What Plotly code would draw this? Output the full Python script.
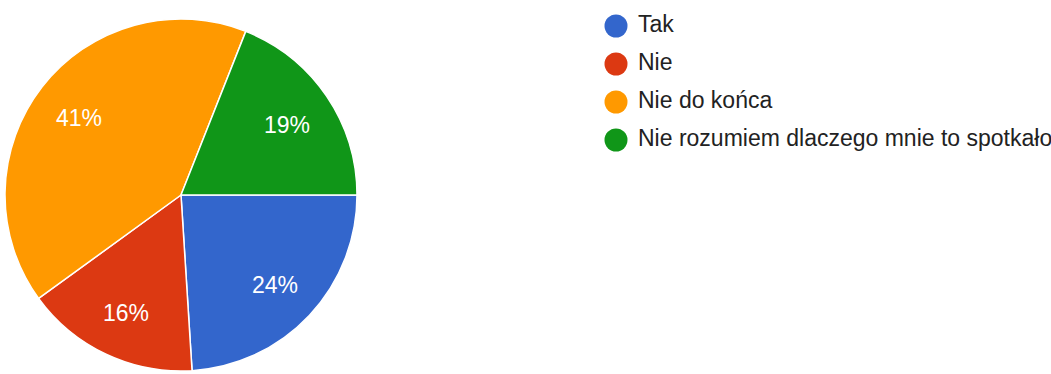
import math
import plotly.graph_objects as go

# Survey answers and their shares (percent)
labels = ["Tak", "Nie", "Nie do końca", "Nie rozumiem dlaczego mnie to spotkało"]
values = [24, 16, 41, 19]
colors = ["#3366cc", "#dc3912", "#ff9900", "#109618"]

W, H = 1051, 374
FONT = "Arial, Liberation Sans, sans-serif"

# pie geometry in pixels (start at 3 o'clock, clockwise)
cx, cy, r = 181, 195, 176
start_deg = 90
label_frac = 0.73

fig = go.Figure()

fig.add_trace(go.Pie(
    labels=labels,
    values=values,
    sort=False,
    direction="clockwise",
    rotation=start_deg,
    marker=dict(colors=colors, line=dict(color="white", width=1.5)),
    textinfo="none",
    showlegend=False,
    hoverinfo="label+percent",
    domain=dict(x=[(cx - r) / W, (cx + r) / W],
                y=[1 - (cy + r) / H, 1 - (cy - r) / H]),
))

# percentage labels placed along each slice's middle angle (drawn above the pie)
total = sum(values)
acc = 0
for v in values:
    mid = math.radians(start_deg + (acc + v / 2) / total * 360)
    fig.add_annotation(
        x=cx + label_frac * r * math.sin(mid),
        y=cy - label_frac * r * math.cos(mid) + 2,
        xref="x", yref="y",
        text=f"{round(v / total * 100)}%",
        showarrow=False,
        xanchor="center", yanchor="middle",
        font=dict(family=FONT, size=23, color="white"),
    )
    acc += v

# legend drawn as a column of circle markers with labels
row_gap = 38
first_row = 26
legend_x = 616
text_x = legend_x + 22
rows = [first_row + i * row_gap for i in range(len(labels))]

fig.add_trace(go.Scatter(
    x=[legend_x] * len(labels), y=rows,
    mode="markers",
    marker=dict(size=23, color=colors, line=dict(width=0)),
    hoverinfo="skip", showlegend=False,
))
fig.add_trace(go.Scatter(
    x=[text_x] * len(labels), y=rows,
    mode="text", text=labels,
    textposition="middle right",
    textfont=dict(family=FONT, size=23, color="#222222"),
    hoverinfo="skip", showlegend=False,
))

fig.update_layout(
    width=W, height=H,
    margin=dict(l=0, r=0, t=0, b=0),
    paper_bgcolor="white",
    plot_bgcolor="rgba(0,0,0,0)",
    xaxis=dict(range=[0, W], visible=False, fixedrange=True),
    yaxis=dict(range=[H, 0], visible=False, fixedrange=True),
)

fig.write_html("out.html")
